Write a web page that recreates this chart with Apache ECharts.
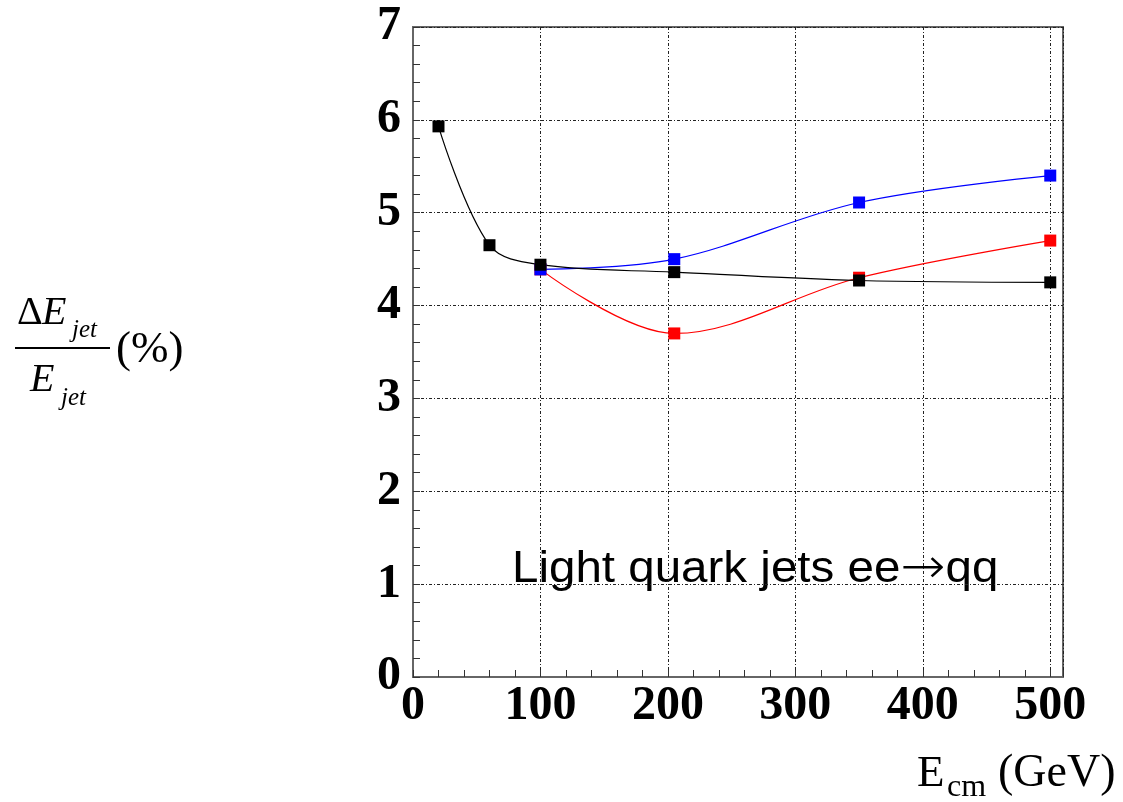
<!DOCTYPE html>
<html><head><meta charset="utf-8">
<script src="https://cdn.jsdelivr.net/npm/echarts@6/dist/echarts.min.js"></script>
<style>html,body{margin:0;padding:0;background:#fff}#c{width:1123px;height:802px}</style>
</head><body><div id="c"></div>
<script>
// Data
const blackX = [20, 60, 100, 205, 350, 500];
const blackY = [5.93, 4.65, 4.44, 4.36, 4.27, 4.25];
const blueX = [100, 205, 350, 500];
const blueY = [4.39, 4.50, 5.11, 5.40];
const redX = [100, 205, 350, 500];
const redY = [4.39, 3.70, 4.30, 4.70];
const yTicks = [0, 1, 2, 3, 4, 5, 6, 7];
const xTicks = [0, 100, 200, 300, 400, 500];

const pairs = (xs, ys) => xs.map((x, i) => [x, ys[i]]);
const serifB = 'Liberation Serif';

const chart = echarts.init(document.getElementById('c'));
const mk = (name, xs, ys, color) => ({
  name, type: 'line', data: pairs(xs, ys), smooth: 0.35,
  xAxisIndex: 0, yAxisIndex: 0,
  symbol: 'rect', symbolSize: 12,
  lineStyle: { color, width: 1.2 },
  itemStyle: { color, borderColor: color, borderWidth: 0 },
  z: 3
});
const gridLine = { show: true, lineStyle: { color: '#222', width: 1, type: [3, 2, 1, 2] } };
const minorAxisCommon = {
  type: 'value', axisLine: { show: false }, splitLine: { show: false },
  axisLabel: { show: false },
  axisTick: { show: true, inside: false, length: -7, lineStyle: { color: '#333', width: 1 } }
};
chart.setOption({
  animation: false,
  grid: { left: 413, right: 60, top: 27, bottom: 125, show: true, borderColor: '#666', borderWidth: 2, backgroundColor: 'transparent' },
  xAxis: [{
    type: 'value', min: 0, max: 510, interval: 100, position: 'bottom',
    axisLine: { show: true, lineStyle: { color: '#666', width: 2 } },
    axisTick: { show: false },
    splitLine: gridLine,
    axisLabel: {
      showMaxLabel: false, margin: 6,
      formatter: v => xTicks.includes(v) ? String(v) : '',
      fontFamily: serifB, fontWeight: 'bold', fontSize: 48, color: '#000'
    }
  }, Object.assign({ min: 0, max: 510, interval: 20, position: 'bottom', offset: 0 }, minorAxisCommon)],
  yAxis: [{
    type: 'value', min: 0, max: 7, interval: 1, position: 'left',
    axisLine: { show: true, lineStyle: { color: '#666', width: 2 } },
    axisTick: { show: false },
    splitLine: gridLine,
    axisLabel: {
      margin: 12,
      formatter: v => yTicks.includes(v) ? String(v) : '',
      fontFamily: serifB, fontWeight: 'bold', fontSize: 48, color: '#000'
    }
  }, Object.assign({ min: 0, max: 7, interval: 0.2, position: 'left', offset: 0 }, minorAxisCommon)],
  series: [
    mk('red', redX, redY, '#ff0000'),
    mk('blue', blueX, blueY, '#0000ff'),
    mk('black', blackX, blackY, '#000000')
  ],
  graphic: [
    { type: 'text', x: 512, y: 545, scaleX: 1.08, style: {
      text: '{a|Light quark jets ee}{r|\u2192}{a|qq}',
      rich: {
        a: { fontFamily: 'Liberation Sans', fontSize: 44, lineHeight: 50, fill: '#000', color: '#000' },
        r: { fontFamily: 'DejaVu Sans', fontSize: 50, lineHeight: 50, fill: '#000', color: '#000', fontWeight: 200 }
      } } },
    // y axis name
    { type: 'text', x: 17, y: 313, style: { text: '\u0394', font: '40px "Liberation Serif"', fill: '#000', verticalAlign: 'middle' } },
    { type: 'text', x: 42, y: 313, style: { text: 'E', font: 'italic 40px "Liberation Serif"', fill: '#000', verticalAlign: 'middle' } },
    { type: 'text', x: 72, y: 330, style: { text: 'jet', font: 'italic 25px "Liberation Serif"', fill: '#000', verticalAlign: 'middle' } },
    { type: 'line', shape: { x1: 15, y1: 348, x2: 110, y2: 348 }, style: { stroke: '#000', lineWidth: 2 } },
    { type: 'text', x: 116, y: 350, style: { text: '(%)', font: '45px "Liberation Serif"', fill: '#000', verticalAlign: 'middle' } },
    { type: 'text', x: 30, y: 380, style: { text: 'E', font: 'italic 40px "Liberation Serif"', fill: '#000', verticalAlign: 'middle' } },
    { type: 'text', x: 61, y: 398, style: { text: 'jet', font: 'italic 25px "Liberation Serif"', fill: '#000', verticalAlign: 'middle' } },
    // x axis name
    { type: 'text', x: 917, y: 774, style: { text: 'E', font: '45px "Liberation Serif"', fill: '#000', verticalAlign: 'middle' } },
    { type: 'text', x: 947, y: 788, style: { text: 'cm', font: '32px "Liberation Serif"', fill: '#000', verticalAlign: 'middle' } },
    { type: 'text', x: 998, y: 774, style: { text: '(GeV)', font: '46px "Liberation Serif"', fill: '#000', verticalAlign: 'middle' } }
  ]
});
</script></body></html>
